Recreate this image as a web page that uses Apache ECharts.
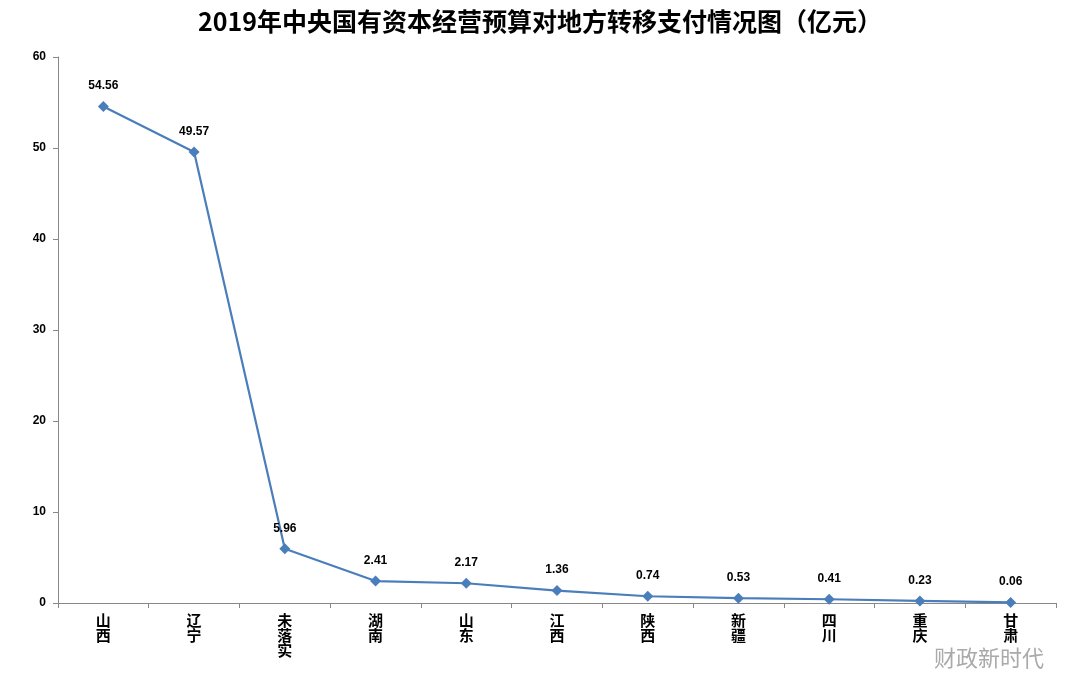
<!DOCTYPE html>
<html>
<head>
<meta charset="utf-8">
<title>ECharts</title>
<script src="https://cdn.jsdelivr.net/npm/echarts@6/dist/echarts.min.js"></script>
<style>body{margin:0;background:#fff}</style>
</head>
<body>
<div id="main" style="width:1080px;height:699px;"></div>
<script>
// 数据
var regions = ['山西', '辽宁', '未落实', '湖南', '山东', '江西', '陕西', '新疆', '四川', '重庆', '甘肃'];
var amounts = [54.56, 49.57, 5.96, 2.41, 2.17, 1.36, 0.74, 0.53, 0.41, 0.23, 0.06];
var yTicks = [0, 10, 20, 30, 40, 50, 60];

var myChart = echarts.init(document.getElementById('main'));
var option = {
    backgroundColor: '#fff',
    title: {
        text: '2019年中央国有资本经营预算对地方转移支付情况图（亿元）',
        left: 'center',
        top: 4,
        textStyle: {fontSize: 25, fontWeight: 'bold', color: '#000', fontFamily: 'Noto Sans CJK SC'}
    },
    grid: {left: 58, right: 24, top: 57, bottom: 96},
    xAxis: {
        type: 'category',
        data: regions,
        boundaryGap: true,
        axisLine: {lineStyle: {color: '#888'}},
        axisTick: {show: true, lineStyle: {color: '#888'}},
        axisLabel: {
            interval: 0,
            margin: 10,
            color: '#000',
            fontSize: 15,
            fontWeight: 'bold',
            lineHeight: 15,
            fontFamily: 'Noto Sans CJK SC',
            formatter: function (v) { return v.split('').join('\n'); }
        }
    },
    yAxis: {
        type: 'value',
        min: yTicks[0],
        max: yTicks[yTicks.length - 1],
        interval: 10,
        splitLine: {show: false},
        axisLine: {show: true, lineStyle: {color: '#888'}},
        axisTick: {show: true, lineStyle: {color: '#888'}},
        axisLabel: {color: '#000', fontSize: 12, fontWeight: 'bold', margin: 12}
    },
    series: [{
        type: 'line',
        data: amounts,
        symbol: 'diamond',
        symbolSize: 11,
        lineStyle: {color: '#4a7ebb', width: 2.2},
        itemStyle: {color: '#4a7ebb'},
        label: {show: true, position: 'top', distance: 9, color: '#000', fontSize: 12, fontWeight: 'bold'}
    }],
    graphic: [{
        type: 'text',
        right: 36,
        bottom: 30,
        style: {text: '财政新时代', fontSize: 22, fill: '#aaa', fontFamily: 'Noto Sans CJK SC'}
    }]
};
myChart.setOption(option);
</script>
</body>
</html>
